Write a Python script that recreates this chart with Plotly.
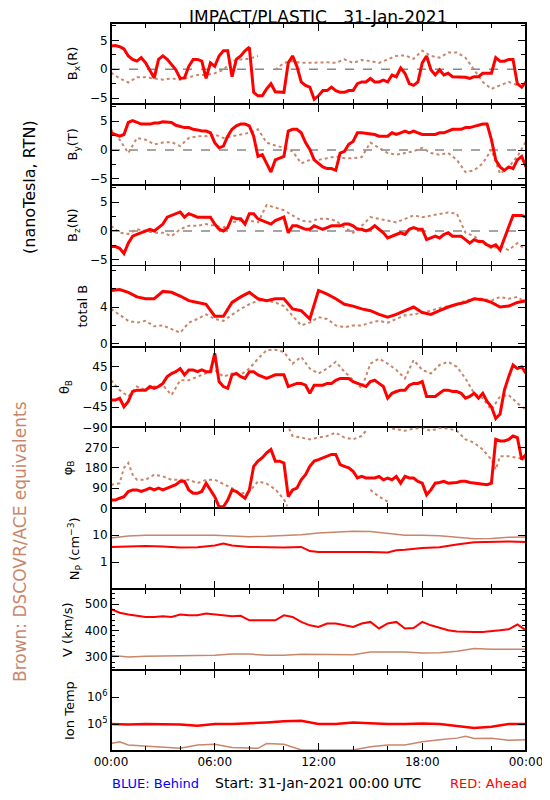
import plotly.graph_objects as go
from plotly.subplots import make_subplots

# ---------------- data ----------------
t_q = [i * 0.25 for i in range(97)]   # quarter-hour sample times (hours)
t_h = [i * 0.5 for i in range(49)]    # half-hour sample times (hours)

bx_red = [4.0, 4.1, 3.9, 3.5, 2.3, 1.7, 1.4, 2.0, 1.1, -0.1, -1.5, 1.7, 2.3, 1.7, 0.8, -0.1,
          -1.6, -1.5, 0.5, 1.7, 1.7, 1.4, -1.6, 1.1, 0.5, 2.3, 3.2, 3.2, -1.3, 1.7, 2.3, 3.2,
          3.8, -4.0, -4.6, -4.6, -3.4, -2.5, -3.9, -4.0, -4.0, 1.1, 2.3, 0.5, -2.2, -2.8, -3.1, -5.2,
          -4.6, -3.7, -3.7, -3.1, -3.7, -4.0, -4.0, -3.7, -3.7, -2.5, -2.2, -2.2, -1.6, -2.2, -2.2, -1.9,
          -2.2, -1.0, -1.3, 0.2, -0.7, -2.5, -2.8, -2.2, 1.1, 2.3, -0.1, -1.0, -0.1, -1.0, -0.7, -1.3,
          -1.3, -1.3, -1.4, -1.6, -1.3, -1.3, -0.7, -0.7, -0.7, 2.0, 1.4, 1.4, 1.7, 1.7, -2.5, -3.1, -2.2]
bx_brown = [-0.6, -1.6, -2.3, -1.4, -1.4, -1.6, -1.8, -1.6, -1.8, -1.4, -1.0, -1.0, -0.7, -0.1, 1.4, 1.7,
            1.8, 2.3, None, -0.1, 1.1, 1.4, 1.1, 1.1, 1.2, 1.2, 1.1, 1.7, 1.1, 1.6, 1.4, 1.1,
            1.7, 2.3, 2.4, 1.8, 3.2, 2.3, 2.0, 2.9, 2.9, 2.0, -0.1, -2.2, -3.4, -2.8, -2.2, -2.8, -3.1]

by_red = [3.0, 2.7, 2.4, 2.7, 4.8, 5.1, 4.8, 4.5, 4.5, 4.5, 4.7, 4.7, 4.9, 4.9, 4.8, 4.3,
          4.1, 3.9, 3.9, 3.6, 3.5, 3.3, 3.3, 3.0, 1.3, 0.4, 0.7, 2.4, 3.6, 4.2, 4.5, 4.5,
          4.2, 2.4, -1.1, -0.8, -2.3, -3.8, -1.7, -1.4, -1.1, 3.3, 3.6, 3.6, 3.0, 1.3, 0.1, -1.7,
          -2.3, -2.9, -3.2, -3.2, -3.5, -0.5, -0.2, 1.0, 1.5, 3.0, 3.0, 2.9, 2.7, 2.7, 2.4, 2.4,
          2.4, 3.0, 2.7, 3.0, 3.3, 3.0, 3.3, 3.0, 2.7, 2.7, 2.7, 2.7, 3.0, 3.0, 3.3, 3.6,
          3.6, 3.6, 3.9, 3.9, 4.1, 4.3, 4.5, 4.5, 1.8, -1.7, -2.9, -3.5, -2.9, -3.2, -1.7, -1.1, -2.9]
by_brown = [3.6, 1.8, -0.5, 2.1, 1.8, 1.0, 1.3, 1.4, 0.7, 2.1, 2.4, 2.4, 2.7, 2.1, 2.4, 2.7,
            3.0, 3.6, 1.3, 0.8, 0.4, -0.2, -2.3, -1.7, -1.7, -1.4, -1.1, -1.4, -1.4, -1.2, 1.3, 0.4,
            -0.5, -0.8, -0.5, -0.2, 0.4, -0.5, -0.8, -0.5, -1.7, -3.8, -3.5, -2.3, 0.1, -4.1, -2.9, -1.1, 1.5]

bz_red = [-2.7, -2.7, -3.0, -3.9, -2.1, -0.9, -0.6, -0.3, 0.0, 0.3, 0.0, 0.6, 1.2, 2.4, 2.7, 3.0,
          3.3, 2.4, 3.0, 2.7, 2.4, 2.4, 2.4, 2.4, 1.2, 0.3, 0.0, 0.6, 2.4, 2.1, 2.1, 1.2,
          3.0, 3.0, 2.1, 1.8, 1.5, 1.2, 1.8, 2.1, 2.4, -0.3, 0.9, 0.9, 0.6, 0.3, 0.3, 0.9,
          0.6, 0.3, 0.6, 0.9, 0.9, 0.9, 1.2, 1.2, 0.9, 0.3, 0.3, 0.0, 0.3, 0.9, 0.3, -0.3,
          -1.2, -0.9, -0.6, -0.3, -0.6, 0.3, 0.6, 0.3, 0.3, -1.5, -1.2, -0.9, -1.2, -0.6, -0.3, -0.9,
          -0.9, -0.9, -1.5, -2.1, -1.5, -1.8, -1.8, -2.4, -2.7, -2.4, -3.3, -1.2, 0.9, 2.7, 2.7, 2.7, 2.4]
bz_brown = [0.9, -0.3, -0.5, 0.3, 0.0, -0.3, -0.3, -0.9, 0.3, 0.9, 0.9, 1.2, 0.9, 0.6, 1.5, 1.8,
            1.8, 1.5, 4.5, 4.0, 3.6, 2.7, 1.8, 1.6, 2.1, 2.1, 1.8, 0.6, -0.3, 0.9, 2.4, 2.1,
            1.8, 1.5, 2.1, 2.7, 2.4, 2.7, 3.0, 3.2, 3.0, -0.3, -0.9, -2.1, -3.0, -2.7, -3.3, -2.1, -3.3]

bt_red = [5.8, 5.9, 5.6, 5.1, 4.9, 4.9, 5.7, 5.6, 5.2, 4.7, 4.5, 4.3, 3.0, 3.0, 4.5, 5.1,
          5.6, 4.9, 4.7, 4.9, 4.9, 3.8, 3.6, 2.7, 5.8, 5.4, 4.9, 4.3, 4.1, 3.8, 3.6, 3.2,
          2.9, 3.2, 3.6, 4.0, 3.4, 3.2, 3.6, 4.0, 4.3, 4.5, 4.9, 4.8, 4.5, 4.0, 4.1, 4.5, 4.7]
bt_brown = [3.8, 3.1, 2.5, 2.3, 2.5, 1.9, 2.0, 1.6, 1.2, 2.3, 2.7, 3.2, 2.7, 2.5, 3.2, 3.8,
            4.3, 4.7, 4.7, 4.5, 4.1, 3.1, 2.0, 2.3, 2.9, 2.7, 2.0, 1.8, 2.0, 2.0, 2.3, 2.5,
            2.3, 2.7, 3.1, 3.2, 3.4, 3.6, 3.9, 4.1, 4.3, 4.7, 4.9, 4.9, 4.7, 5.1, 4.9, 5.1, 4.5]

theta_red = [-29, -29, -25, -44, -32, -10, -7, -7, -7, 1, -3, 1, 8, 23, 30, 34,
             41, 27, 38, 38, 34, 38, 34, 34, 75, 12, 1, -3, 27, 30, 23, 19,
             34, 34, 27, 23, 19, 23, 27, 27, 27, 1, 4, 8, 8, 4, -14, 4,
             4, 4, 8, 8, 15, 19, 19, 19, 12, 8, 4, 1, 12, 15, 8, 1,
             -25, -14, -10, -7, -7, 4, 8, 8, 12, -21, -21, -21, -14, -7, -7, -10,
             -10, -14, -25, -21, -14, -25, -14, -32, -44, -70, -60, -7, 23, 49, 41, 45, 30]
theta_brown = [15, -7, -21, 1, -7, 1, 4, -18, 15, 15, 23, 30, 38, 23, 30, 27,
               41, 63, 82, 83, 78, 52, 67, 41, 30, 41, 56, 34, 15, -3, 52, 63,
               52, 38, 19, 60, 38, 30, 49, 56, 45, 19, -14, -25, -51, -21, -18, -36, -51]

phi_red = [37, 37, 45, 52, 75, 82, 82, 75, 82, 90, 82, 90, 82, 90, 97, 105,
           120, 120, 82, 67, 67, 75, 112, 82, 52, 7, 7, 37, 82, 75, 60, 45,
           82, 187, 210, 225, 247, 262, 210, 210, 202, 52, 82, 90, 127, 150, 187, 210,
           217, 225, 232, 240, 240, 195, 187, 180, 165, 135, 142, 135, 135, 135, 142, 127,
           135, 127, 142, 112, 142, 135, 135, 120, 112, 60, 82, 112, 115, 120, 112, 112,
           115, 120, 120, 115, 112, 108, 105, 105, 112, 307, 300, 300, 307, 322, 315, 217, 240]
phi_brown_t = [0, 0.5, 0.75, 1, 1.25, 1.5, 2, 2.5, 3, 3.5, 4, 4.5, 5, 5.5, 6, 6.5, 7, 7.5, 8, 8.5,
               9, 9.5, 10, 10.2, None, 10.3, 10.5, 11, 11.5, 12, 12.5, 13, 13.5, 14, 14.5, 14.75,
               None, 15, 15.5, 16, None, 16.25, 16.5, 17, 17.5, 18, 18.5, 19, 19.5, 20, 20.5,
               21, 21.5, 22, 22.25, 22.5, 23, 23.5, 24]
phi_brown = [105, 112, 180, 202, 150, 127, 127, 150, 142, 127, 127, 127, 112, 127, 127, 110, 90, 65, 75, 120,
             110, 85, 40, 10, None, 355, 322, 315, 307, 315, 322, 337, 315, 307, 322, 345,
             None, 82, 52, 30, None, 355, 352, 345, 355, 358, 345, 358, 355, 345, 307,
             292, 262, 217, 172, 232, 232, 225, 217]

np_red_t = [0, 1, 2, 3, 4, 5, 6, 6.5, 7, 8, 9, 10, 11, 11.5, 12, 13, 14, 15, 16, 16.5, 17, 18,
            19, 20, 21, 22, 23, 24]
np_red = [3.7, 3.8, 4.0, 3.8, 3.5, 3.6, 4.2, 5.0, 4.2, 3.7, 3.5, 3.5, 3.7, 2.6, 2.4, 2.4, 2.5, 2.4,
          2.3, 2.8, 2.9, 3.4, 3.6, 4.6, 5.5, 5.8, 5.9, 5.6]
np_brown_t = [i for i in range(25)]
np_brown = [8.0, 9.5, 10, 10.2, 10.2, 10, 10, 9.2, 8.9, 9.2, 9.7, 10.5, 12.2, 13.5, 14, 13.8,
            11.5, 10, 10, 9.7, 8.5, 7.5, 7.6, 8.4, 8.7]

v_red = [481, 468, 461, 456, 452, 452, 454, 452, 461, 458, 458, 465, 461, 458, 454, 456,
         439, 439, 439, 439, 458, 452, 433, 420, 414, 427, 427, 420, 414, 427, 433, 408,
         427, 433, 408, 410, 433, 420, 410, 401, 397, 395, 395, 395, 397, 401, 405, 423, 401]
v_brown_t = [0, 1, 2, 4, 6, 7, 8, 9, 10, 11, 12, 13, 14, 15, 16, 17, 18, 19, 20, 21, 22, 23, 24]
v_brown = [306, 300, 303, 304, 306, 311, 311, 306, 306, 310, 310, 308, 308, 319, 319, 319, 315,
           316, 322, 332, 329, 329, 329]

temp_t = [i for i in range(25)]
temp_red = [1.0e5, 0.96e5, 1.0e5, 1.0e5, 0.96e5, 0.87e5, 1.0e5, 1.0e5, 1.05e5, 1.15e5, 1.26e5,
            1.32e5, 1.0e5, 1.0e5, 1.15e5, 1.05e5, 1.0e5, 1.0e5, 1.05e5, 1.0e5, 0.87e5, 0.72e5,
            0.79e5, 1.0e5, 1.0e5]
temp_brown_t = [0, 0.5, 1, 2, 3, 4, 5, 6, 7, 8, 8.5, 9, 10, 11, 12, 13, 14, 15, 16, 17, 18, 19,
                20, 20.5, 21, 22, 23, 24]
temp_brown = [1.9e4, 2.2e4, 1.66e4, 1.51e4, 1.45e4, 1.26e4, 1.66e4, 1.78e4, 1.35e4, 1.26e4, 1.26e4,
              1.9e4, 1.78e4, 1.1e4, 1.1e4, 1.1e4, 1.1e4, 1.45e4, 1.66e4, 1.66e4, 2.2e4, 2.6e4,
              3.0e4, 3.5e4, 2.9e4, 3.0e4, 2.5e4, 2.6e4]

x_tick_vals = [0, 6, 12, 18, 24]
x_tick_text = ["00:00", "06:00", "12:00", "18:00", "00:00"]

# ---------------- figure ----------------
RED = "#ff0000"
BROWN = "#c8866a"
FONT = "DejaVu Sans"

fig = make_subplots(rows=9, cols=1, shared_xaxes=True, vertical_spacing=0)

def red(x, y, row, w=3):
    fig.add_trace(go.Scatter(x=x, y=y, mode="lines", line=dict(color=RED, width=w),
                             showlegend=False, connectgaps=False), row=row, col=1)

def brown(x, y, row, solid=False):
    line = dict(color=BROWN, width=1.5) if solid else dict(color=BROWN, width=2, dash="dot")
    fig.add_trace(go.Scatter(x=x, y=y, mode="lines", line=line,
                             showlegend=False, connectgaps=False), row=row, col=1)

for r in (1, 2, 3):
    fig.add_shape(type="line", x0=0, x1=24, y0=0, y1=0, line=dict(color="#888888", width=1.5, dash="dash"),
                  row=r, col=1, layer="below")

brown(t_h, bx_brown, 1); red(t_q, bx_red, 1)
brown(t_h, by_brown, 2); red(t_q, by_red, 2)
brown(t_h, bz_brown, 3); red(t_q, bz_red, 3)
brown(t_h, bt_brown, 4); red(t_h, bt_red, 4)
brown(t_h, theta_brown, 5); red(t_q, theta_red, 5)
brown(phi_brown_t, phi_brown, 6); red(t_q, phi_red, 6)
brown(np_brown_t, np_brown, 7, True); red(np_red_t, np_red, 7, 2)
brown(v_brown_t, v_brown, 8, True); red(t_h, v_red, 8, 2)
brown(temp_brown_t, temp_brown, 9, True); red(temp_t, temp_red, 9, 2.5)

axis_common = dict(showline=True, linecolor="black", linewidth=1, mirror="allticks",
                   ticks="inside", ticklen=8, tickcolor="black", tickwidth=1.2,
                   showgrid=False, zeroline=False, tickfont=dict(family=FONT, size=12, color="black"))

for r in range(1, 10):
    fig.update_xaxes(range=[0, 24], tickvals=x_tick_vals, ticktext=x_tick_text,
                     minor=dict(tickvals=[2, 4, 8, 10, 14, 16, 20, 22], ticks="inside", ticklen=5,
                                tickcolor="black", tickwidth=1.2, showgrid=False),
                     showticklabels=(r == 9), row=r, col=1, **axis_common)

ytitle_font = dict(family=FONT, size=13, color="black")
yconf = [
    dict(range=[-6, 8], tickvals=[-5, 0, 5], minor=dict(dtick=2.5, ticks="inside", ticklen=5), title="B<sub>x</sub>(R)"),
    dict(range=[-6, 8], tickvals=[-5, 0, 5], minor=dict(dtick=2.5, ticks="inside", ticklen=5), title="B<sub>y</sub>(T)"),
    dict(range=[-6, 8], tickvals=[-5, 0, 5], minor=dict(dtick=2.5, ticks="inside", ticklen=5), title="B<sub>z</sub>(N)"),
    dict(range=[-0.3, 8.5], tickvals=[0, 4], minor=dict(tickvals=[2, 6, 8], ticks="inside", ticklen=5), title="total B"),
    dict(range=[-90, 90], tickvals=[-90, -45, 0, 45], title="θ<sub>B</sub>"),
    dict(range=[0, 360], tickvals=[0, 90, 180, 270], title="φ<sub>B</sub>"),
    dict(type="log", range=[-1, 2], tickvals=[1, 10], ticktext=["1", "10"], title="N<sub>P</sub> (cm<sup>−3</sup>)"),
    dict(range=[250, 557], tickvals=[300, 400, 500], minor=dict(dtick=20, ticks="inside", ticklen=4), title="V (km/s)"),
    dict(type="log", range=[4, 7], tickvals=[1e5, 1e6], ticktext=["10<sup>5</sup>", "10<sup>6</sup>"], title="Ion Temp"),
]
for r, c in enumerate(yconf, start=1):
    c = dict(c)
    title = c.pop("title")
    fig.update_yaxes(title=dict(text=title, font=ytitle_font, standoff=9), row=r, col=1, **c, **axis_common)

# the page has an 8px body margin: figure origin sits at page (8, 8)
def px_to_paper(px, py):
    return (px - 111) / 415.0, (751 - py) / 728.0

annos = []
x, y = px_to_paper(318, 17)
annos.append(dict(x=x, y=y, text="IMPACT/PLASTIC   31-Jan-2021", font=dict(family=FONT, size=17, color="black")))
x, y = px_to_paper(30, 187)
annos.append(dict(x=x, y=y, text="(nanoTesla, RTN)", textangle=-90, font=dict(family=FONT, size=16, color="black")))
x, y = px_to_paper(20, 542)
annos.append(dict(x=x, y=y, text="Brown: DSCOVR/ACE equivalents", textangle=-90, font=dict(family=FONT, size=17, color=BROWN)))
x, y = px_to_paper(155, 783)
annos.append(dict(x=x, y=y, text="BLUE: Behind", font=dict(family=FONT, size=13, color="#0000ff")))
x, y = px_to_paper(318, 783)
annos.append(dict(x=x, y=y, text="Start: 31-Jan-2021 00:00 UTC", font=dict(family=FONT, size=14, color="black")))
x, y = px_to_paper(488, 783)
annos.append(dict(x=x, y=y, text="RED: Ahead", font=dict(family=FONT, size=13, color=RED)))
for a in annos:
    a.update(xref="paper", yref="paper", showarrow=False, xanchor="center", yanchor="middle")

fig.add_shape(type="rect", xref="paper", yref="paper", x0=0, x1=1, y0=0, y1=1,
              line=dict(color="black", width=2), fillcolor="rgba(0,0,0,0)")

fig.update_layout(width=542, height=784, margin=dict(l=103, r=24, t=15, b=41, autoexpand=False),
                  plot_bgcolor="white", paper_bgcolor="white", annotations=annos,
                  font=dict(family=FONT, color="black"))

fig.write_html("out.html")
